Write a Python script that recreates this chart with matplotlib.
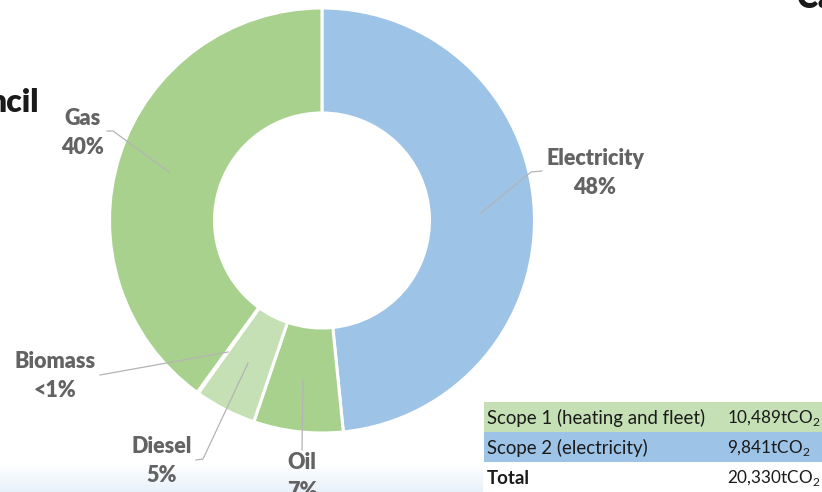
import matplotlib
matplotlib.use("Agg")
import matplotlib.pyplot as plt
import numpy as np

plt.rcParams['font.family'] = ['Lato', 'DejaVu Sans']
plt.rcParams['mathtext.fontset'] = 'custom'
plt.rcParams['mathtext.rm'] = 'Lato'

# ---- data ----
categories = ["Electricity", "Oil", "Diesel", "Biomass", "Gas"]
values = [48.4, 6.8, 4.7, 0.1, 40.0]
pct_labels = ["48%", "7%", "5%", "<1%", "40%"]
colors = ["#9DC3E6", "#A9D18E", "#C5E0B4", "#B5D69E", "#A9D18E"]

table_labels = ["Scope 1 (heating and fleet)", "Scope 2 (electricity)", "Total"]
table_values = ["10,489", "9,841", "20,330"]
table_colors = ["#C5E0B4", "#9DC3E6", "#FFFFFF"]

W, H = 822, 492
fig = plt.figure(figsize=(W / 100, H / 100), dpi=100)
ax = fig.add_axes([0, 0, 1, 1])
ax.set_xlim(0, W)
ax.set_ylim(0, H)
ax.set_aspect('equal')
ax.axis('off')

def Y(y):
    return H - y

# bottom light gradient band
grad = np.linspace(0, 1, 50).reshape(-1, 1)
cmap = matplotlib.colors.LinearSegmentedColormap.from_list("g", ["#FFFFFF", "#E8F1FA"])
ax.imshow(grad, cmap=cmap, extent=[0, 483, Y(492), Y(463)], aspect='auto', zorder=0, origin='upper')

# donut
cx, cy, R = 322, 220.5, 212.5
wedges, _ = ax.pie(values, colors=colors, startangle=90, counterclock=False,
                   center=(cx, Y(cy)), radius=R, frame=True,
                   wedgeprops=dict(width=R - 107.5, edgecolor='white', linewidth=2.2))
ax.set_xlim(0, W)
ax.set_ylim(0, H)
ax.axis('off')

lab_color = "#636363"
line_color = "#B4B4B4"
fs = 15.5
label_pos = {
    "Electricity": (595, 173),
    "Gas": (82, 133),
    "Biomass": (55, 376),
    "Diesel": (162, 461),
    "Oil": (302, 477),
}
leaders = {
    "Electricity": [(542, 171), (531, 172), (481, 213)],
    "Gas": [(107, 131), (113, 131), (169, 172)],
    "Biomass": [(100, 375), (228, 352)],
    "Diesel": [(196, 460), (203, 459), (248, 363)],
    "Oil": [(302, 450), (303, 380)],
}
for cat, pct in zip(categories, pct_labels):
    x, y = label_pos[cat]
    ax.text(x, Y(y), f"{cat}\n{pct}", ha='center', va='center', fontsize=fs,
            fontweight='heavy', color=lab_color, linespacing=1.42, zorder=5)
    pts = leaders[cat]
    ax.plot([p[0] for p in pts], [Y(p[1]) for p in pts], color=line_color, lw=0.9, zorder=4)

# table
row_tops = [402, 432, 462]
row_h = 30.5
for i, (lab, val, col) in enumerate(zip(table_labels, table_values, table_colors)):
    top = row_tops[i]
    ax.add_patch(plt.Rectangle((484, Y(top + row_h)), W - 484, row_h, facecolor=col,
                               edgecolor='none', zorder=2))
    yc = Y(top + row_h / 2 + 1)
    weight = 'bold' if lab == "Total" else 'normal'
    ax.text(487, yc, lab, ha='left', va='center', fontsize=13.4, fontweight=weight,
            color='#1a1a1a', zorder=3)
    ax.text(727, yc, val + r"tCO$_2$", ha='left', va='center', fontsize=12.3,
            color='#1a1a1a', zorder=3)

# cropped title fragments
ax.text(39, Y(112), "ncil", ha='right', va='baseline', fontsize=23, fontweight='heavy',
        color='#1a1a1a')
ax.text(797, Y(8), "Ca", ha='left', va='baseline', fontsize=23, fontweight='heavy',
        color='#1a1a1a')

fig.savefig("out.png", dpi=100)
